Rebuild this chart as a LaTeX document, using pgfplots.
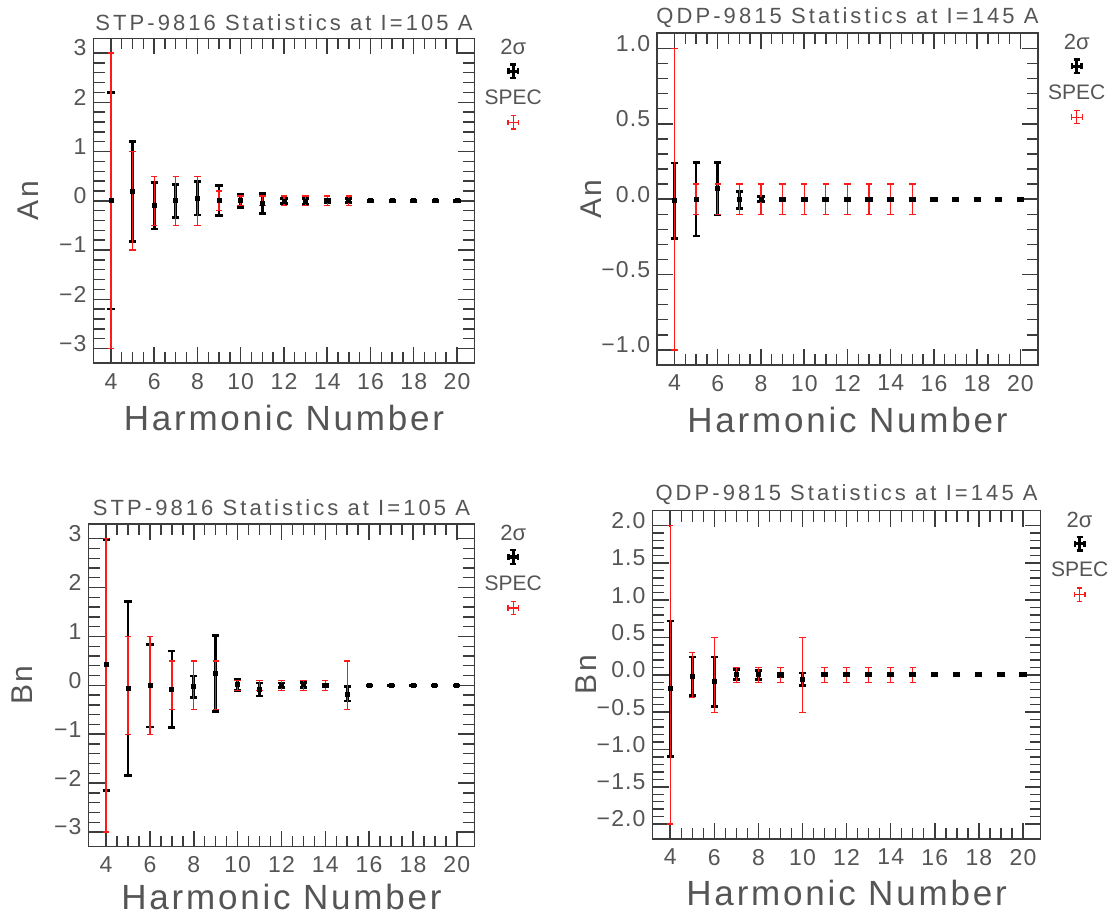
\documentclass[border=0pt]{standalone}
\usepackage{pgfplots}
\pgfplotsset{compat=1.18}
\usepackage{pgfplotstable}
\usepackage{fontspec}
\setmainfont{Liberation Sans}
\newfontfamily\titlefont[LetterSpace=14]{Liberation Sans}
\newfontfamily\labfont[LetterSpace=8]{Liberation Sans}
\newfontfamily\tickfont[LetterSpace=5]{Liberation Sans}
\definecolor{txt}{HTML}{555555}
\definecolor{axc}{HTML}{3C3C3C}
\definecolor{specred}{HTML}{FF1A1A}

% ---------------- data: x = harmonic, y = centre, e = half-length of bar
\pgfplotstableread{
x y e
4 0.00 2.20
5 0.19 1.01
6 -0.10 0.475
7 0.00 0.335
8 0.05 0.34
9 0.01 0.305
10 0.00 0.13
11 -0.05 0.205
12 -0.01 0.05
13 -0.01 0.06
14 0.00 0.03
15 0.00 0.04
16 0.00 0.01
17 0.00 0.01
18 0.00 0.01
19 0.00 0.01
20 0.00 0.01
}\AnSTPsig
\pgfplotstableread{
x y e
4 0 3.0
5 0 1.0
6 0 0.5
7 0 0.5
8 0 0.5
9 0 0.2
10 0 0.1
11 0 0.1
12 0 0.1
13 0 0.1
14 0 0.1
15 0 0.1
}\AnSTPspec
\pgfplotstableread{
x y e
4 -0.01 0.25
5 0.00 0.245
6 0.07 0.175
7 -0.005 0.055
8 0.00 0.017
9 0.00 0.008
10 0.00 0.008
11 0.00 0.008
12 0.00 0.008
13 0.00 0.008
14 0.00 0.008
15 0.00 0.008
16 0.00 0.008
17 0.00 0.008
18 0.00 0.008
19 0.00 0.008
20 0.00 0.008
}\AnQDPsig
\pgfplotstableread{
x y e
4 0 1.0
5 0 0.1
6 0 0.1
7 0 0.1
8 0 0.1
9 0 0.1
10 0 0.1
11 0 0.1
12 0 0.1
13 0 0.1
14 0 0.1
15 0 0.1
}\AnQDPspec
\pgfplotstableread{
x y e
4 0.42 2.57
5 -0.065 1.785
6 -0.005 0.845
7 -0.08 0.785
8 -0.03 0.22
9 0.245 0.775
10 0.015 0.115
11 -0.085 0.135
12 0.00 0.05
13 0.01 0.05
14 0.00 0.03
15 -0.175 0.145
16 0.00 0.01
17 0.00 0.01
18 0.00 0.01
19 0.00 0.01
20 0.00 0.01
}\BnSTPsig
\pgfplotstableread{
x y e
4 0 3.0
5 0 1.0
6 0 1.0
7 0 0.5
8 0 0.5
9 0 0.5
10 0 0.1
11 0 0.1
12 0 0.1
13 0 0.1
14 0 0.1
15 0 0.5
}\BnSTPspec
\pgfplotstableread{
x y e
4 -0.185 0.905
5 -0.02 0.26
6 -0.09 0.33
7 0.00 0.067
8 0.00 0.06
9 0.00 0.02
10 -0.06 0.085
11 0.00 0.015
12 0.00 0.015
13 0.00 0.015
14 0.00 0.015
15 0.00 0.015
16 0.00 0.015
17 0.00 0.015
18 0.00 0.015
19 0.00 0.015
20 0.00 0.015
}\BnQDPsig
\pgfplotstableread{
x y e
4 0 2.0
5 0 0.3
6 0 0.5
7 0 0.1
8 0 0.1
9 0 0.1
10 0 0.5
11 0 0.1
12 0 0.1
13 0 0.1
14 0 0.1
15 0 0.1
}\BnQDPspec

\pgfplotsset{
  idl/.style={
    scale only axis,
    xmin=3.2, xmax=20.8,
    xtick={4,6,...,20},
    xticklabels={4,6,8,10,12,14,16,18,20},
    minor x tick num=3,
    minor y tick num=4,
    tick align=inside,
    xtick pos=both, ytick pos=both,
    xticklabel pos=lower, yticklabel pos=left,
    major tick length=8pt,
    minor tick length=5.5pt,
    axis line style={axc, line width=0.8pt},
    every tick/.style={axc, line width=0.75pt},
    every minor tick/.style={axc, line width=0.7pt},
    tick label style={font=\tickfont\fontsize{11.5}{12}\selectfont, text=txt},
    yticklabel style={yshift=2.5pt},
    xticklabel style={yshift=-1.5pt},
    title style={at={(axis description cs:0.5,1)}, anchor=center, yshift=2pt,
                 font=\titlefont\fontsize{11}{12}\selectfont, text=txt},
    xlabel style={at={(axis description cs:0.5,0)}, anchor=center, yshift=-27.5pt,
                  font=\labfont\fontsize{17.5}{18}\selectfont, text=txt},
    ylabel style={anchor=center, font=\labfont\fontsize{15}{16}\selectfont, text=txt},
    xlabel={Harmonic Number},
    clip=false,
  },
  sigbars/.style={only marks, mark=square*, mark size=1pt, black,
     error bars/.cd, y dir=both, y explicit,
     error bar style={line width=1.35pt, black},
     error mark=-, error mark options={rotate=90, line width=1.35pt, mark size=1.8pt, black}},
  specbars/.style={draw=none, no markers,
     error bars/.cd, y dir=both, y explicit,
     error bar style={line width=0.65pt, draw=specred},
     error mark=-, error mark options={rotate=90, line width=0.65pt, mark size=1.6pt, draw=specred}},
}

\newcommand{\idllegend}[1]{%
  \node[text=txt, font=\fontsize{11}{12}\selectfont, inner sep=0pt]
     at ([shift={(19.5pt,-4.5pt)}]#1.north east) {2σ};
  \begin{scope}[shift={([shift={(19.5pt,-16.5pt)}]#1.north east)}]
    \draw[black, line width=1.6pt] (0,-3.5pt)--(0,3.5pt) (-2.5pt,0)--(2.5pt,0);
    \draw[black, line width=1.2pt] (-1.5pt,3.4pt)--(1.5pt,3.4pt) (-1.5pt,-3.4pt)--(1.5pt,-3.4pt)
          (-2.4pt,-1.5pt)--(-2.4pt,1.5pt) (2.4pt,-1.5pt)--(2.4pt,1.5pt);
  \end{scope}
  \node[text=txt, font=\fontsize{10.5}{12}\selectfont, inner sep=0pt]
     at ([shift={(19.5pt,-29.5pt)}]#1.north east) {SPEC};
  \begin{scope}[shift={([shift={(19.5pt,-42pt)}]#1.north east)}]
    \draw[specred, line width=0.6pt] (0,-3.3pt)--(0,3.3pt) (-2.7pt,0)--(2.7pt,0);
    \draw[specred, line width=0.6pt] (-1.4pt,3.3pt)--(1.4pt,3.3pt) (-1.4pt,-3.3pt)--(1.4pt,-3.3pt)
          (-2.7pt,-1.4pt)--(-2.7pt,1.4pt) (2.7pt,-1.4pt)--(2.7pt,1.4pt);
  \end{scope}
}

\begin{document}
\begin{tikzpicture}
\path[use as bounding box] (0,0) rectangle (557pt,457.5pt);

% ---- top left
\begin{axis}[idl, name=p1, at={(46.8pt,275.85pt)}, anchor=south west,
  width=190.35pt, height=162.5pt,
  ymin=-3.3, ymax=3.3, ytick={-3,-2,-1,0,1,2,3},
  yticklabels={−3,−2,−1,0,1,2,3},
  title={STP-9816 Statistics at I=105 A},
  ylabel={An}, ylabel style={at={(axis description cs:-0.173,0.5)}}]
\addplot[sigbars] table[x=x, y=y, y error=e] {\AnSTPsig};
\addplot[specbars] table[x=x, y=y, y error=e] {\AnSTPspec};
\end{axis}
\idllegend{p1}

% ---- top right
\begin{axis}[idl, name=p2, at={(328.6pt,275pt)}, anchor=south west,
  width=190.25pt, height=165.85pt,
  ymin=-1.1, ymax=1.1, ytick={-1,-0.5,0,0.5,1},
  yticklabels={−1.0,−0.5,0.0,0.5,1.0},
  title={QDP-9815 Statistics at I=145 A},
  ylabel={An}, ylabel style={at={(axis description cs:-0.173,0.5)}}]
\addplot[sigbars] table[x=x, y=y, y error=e] {\AnQDPsig};
\addplot[specbars] table[x=x, y=y, y error=e] {\AnQDPspec};
\end{axis}
\idllegend{p2}

% ---- bottom left
\begin{axis}[idl, name=p3, at={(44.3pt,34.15pt)}, anchor=south west,
  width=192.85pt, height=161.35pt,
  ymin=-3.3, ymax=3.3, ytick={-3,-2,-1,0,1,2,3},
  yticklabels={−3,−2,−1,0,1,2,3},
  title={STP-9816 Statistics at I=105 A},
  xlabel style={yshift=2.5pt},
  ylabel={Bn}, ylabel style={at={(axis description cs:-0.171,0.5)}}]
\addplot[sigbars] table[x=x, y=y, y error=e] {\BnSTPsig};
\addplot[specbars] table[x=x, y=y, y error=e] {\BnSTPspec};
\end{axis}
\idllegend{p3}

% ---- bottom right
\begin{axis}[idl, name=p4, at={(326.3pt,38pt)}, anchor=south west,
  width=194pt, height=164.15pt,
  ymin=-2.2, ymax=2.2, ytick={-2,-1.5,-1,-0.5,0,0.5,1,1.5,2},
  yticklabels={−2.0,−1.5,−1.0,−0.5,0.0,0.5,1.0,1.5,2.0},
  title={QDP-9815 Statistics at I=145 A},
  xlabel style={yshift=0.5pt},
  ylabel={Bn}, ylabel style={at={(axis description cs:-0.170,0.5)}}]
\addplot[sigbars] table[x=x, y=y, y error=e] {\BnQDPsig};
\addplot[specbars] table[x=x, y=y, y error=e] {\BnQDPspec};
\end{axis}
\idllegend{p4}

\end{tikzpicture}
\end{document}
